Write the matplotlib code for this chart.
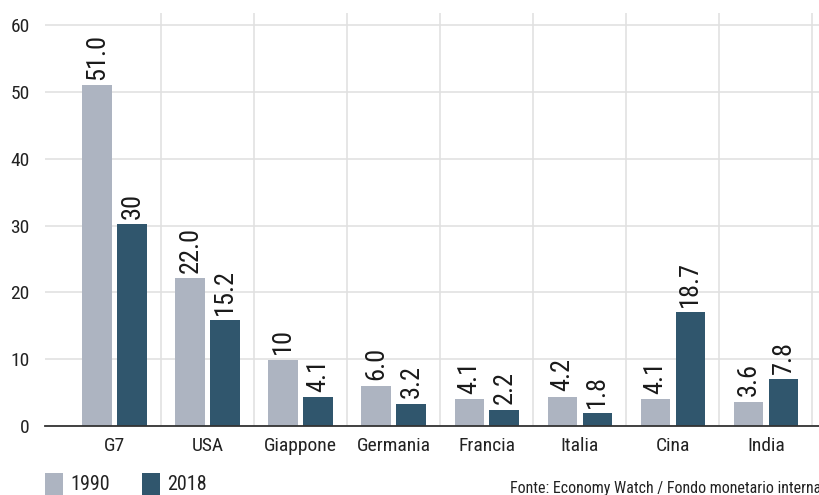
import numpy as np
import matplotlib.pyplot as plt
from matplotlib.patches import Rectangle
from matplotlib import font_manager

paesi = ["G7", "USA", "Giappone", "Germania", "Francia", "Italia", "Cina", "India"]
quota_1990 = [51.0, 22.1, 9.9, 6.0, 4.0, 4.4, 4.0, 3.6]
quota_2018 = [30.2, 15.8, 4.3, 3.3, 2.4, 1.9, 17.0, 7.0]
etichette_1990 = ["51.0", "22.0", "10", "6.0", "4.1", "4.2", "4.1", "3.6"]
etichette_2018 = ["30", "15.2", "4.1", "3.2", "2.2", "1.8", "18.7", "7.8"]
yticks = [0, 10, 20, 30, 40, 50, 60]

col_1990 = "#adb4c1"
col_2018 = "#30566d"

names = sorted({f.name for f in font_manager.fontManager.ttflist})
narrow = [n for n in ("Liberation Sans Narrow", "Roboto Condensed", "Open Sans Condensed") if n in names]
if narrow:
    plt.rcParams["font.family"] = [narrow[0], "DejaVu Sans"]
else:
    plt.rcParams["font.family"] = ["DejaVu Sans"]
    plt.rcParams["font.stretch"] = "condensed"

W, H = 819, 495
fig = plt.figure(figsize=(W / 100, H / 100), dpi=100)
ax = fig.add_axes([45 / W, (H - 426) / H, 1 - 45 / W, (426 - 13) / H])

x = np.arange(len(paesi))
w = 0.32
off = 0.188
b1 = ax.bar(x - off, quota_1990, w, color=col_1990, zorder=3)
b2 = ax.bar(x + off, quota_2018, w, color=col_2018, zorder=3)

for bars, labs in ((b1, etichette_1990), (b2, etichette_2018)):
    for r, lab in zip(bars, labs):
        ax.annotate(lab, (r.get_x() + r.get_width() / 2, r.get_height()),
                    xytext=(0, 4), textcoords="offset points",
                    rotation=90, ha="center", va="bottom",
                    fontsize=19, color="#1a1a1a")

ax.set_xlim(-0.75, 7.57)
ax.set_ylim(0, 61.8)
ax.set_yticks(yticks)
ax.set_xticks(x)
ax.set_xticklabels(paesi)
ax.set_xticks(x + 0.5, minor=True)
ax.tick_params(axis="both", which="both", length=0, labelsize=14, colors="#222222")
ax.tick_params(axis="y", pad=11)
ax.tick_params(axis="x", pad=8)
ax.grid(axis="y", color="#e1e1e1", lw=1.2, zorder=0)
ax.grid(axis="x", which="minor", color="#e1e1e1", lw=1.2, zorder=0)
for s in ("top", "right", "left"):
    ax.spines[s].set_visible(False)
ax.spines["bottom"].set_color("#333333")
ax.spines["bottom"].set_linewidth(1.3)
ax.spines["bottom"].set_zorder(4)

# legenda
for px, col, lab in ((45, col_1990, "1990"), (142, col_2018, "2018")):
    fig.add_artist(Rectangle((px / W, 0), 18 / W, 22 / H, transform=fig.transFigure,
                             color=col, lw=0))
    fig.text((px + 25) / W, 11 / H, lab, fontsize=14.5, va="center", ha="left", color="#222222")

fig.text(510 / W, 7 / H, "Fonte: Economy Watch / Fondo monetario internazionale",
         fontsize=11.5, va="center", ha="left", color="#222222")

fig.savefig("out.png", dpi=100)
